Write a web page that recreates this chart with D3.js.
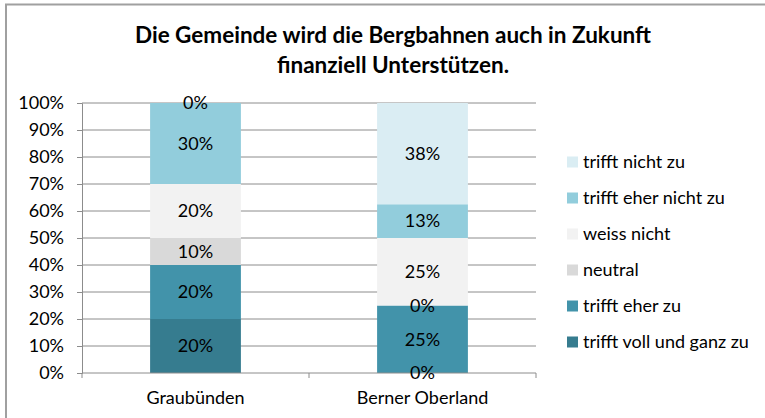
<!DOCTYPE html>
<html>
<head>
<meta charset="utf-8">
<script src="https://cdn.jsdelivr.net/npm/d3@7"></script>
<style>
  body { margin: 0; background: #fff; }
  svg text { font-family: Lato, "Open Sans", sans-serif; fill: #000; }
</style>
</head>
<body>
<svg id="chart" width="765" height="418"></svg>
<script>
// values (shares, 0..1)
var categories = ['Graubünden', 'Berner Oberland'];
var answers = ['trifft voll und ganz zu', 'trifft eher zu', 'neutral', 'weiss nicht', 'trifft eher nicht zu', 'trifft nicht zu'];
var vollUndGanz = [0.20, 0.00];
var eherZu = [0.20, 0.25];
var neutral = [0.10, 0.00];
var weissNicht = [0.20, 0.25];
var eherNicht = [0.30, 0.125];
var nichtZu = [0.00, 0.375];
var yTicks = [0, 0.1, 0.2, 0.3, 0.4, 0.5, 0.6, 0.7, 0.8, 0.9, 1];
var titleLines = ['Die Gemeinde wird die Bergbahnen auch in Zukunft', 'finanziell Unterstützen.'];

var colors = ['#367c8f', '#4293aa', '#d9d9d9', '#f2f2f2', '#92cddc', '#daedf3'];

var rows = categories.map(function (c, i) {
  return {
    cat: c,
    'trifft voll und ganz zu': vollUndGanz[i],
    'trifft eher zu': eherZu[i],
    'neutral': neutral[i],
    'weiss nicht': weissNicht[i],
    'trifft eher nicht zu': eherNicht[i],
    'trifft nicht zu': nichtZu[i]
  };
});

var svg = d3.select('#chart');
// note: "top" is taken by window.top, hence the plot* names
var plotLeft = 82, plotRight = 536, plotTop = 103, plotBottom = 373;
var axisGrey = '#8c8c8c';

// outer frame (only top and left edges visible)
svg.append('path')
  .attr('d', 'M6,430 V4.5 H780')
  .attr('fill', 'none').attr('stroke', '#a0a0a0').attr('stroke-width', 2);

svg.append('text')
  .attr('text-anchor', 'middle')
  .style('font-weight', 'bold').style('font-size', '22.5px')
  .selectAll('tspan').data(titleLines).join('tspan')
  .attr('x', 393).attr('y', function (d, i) { return 43 + i * 30; })
  .text(function (d) { return d; });

var x = d3.scaleBand().domain(categories).range([plotLeft, plotRight]).padding(0);
var y = d3.scaleLinear().domain([0, 1]).range([plotBottom, plotTop]);
var color = d3.scaleOrdinal().domain(answers).range(colors);
var barW = x.bandwidth() * 0.4;
var pct = d3.format('.0%');

// gridlines
svg.append('g').selectAll('line').data(yTicks.slice(1)).join('line')
  .attr('x1', plotLeft).attr('x2', plotRight)
  .attr('y1', function (d) { return y(d); }).attr('y2', function (d) { return y(d); })
  .attr('stroke', axisGrey);

var yAxis = svg.append('g').attr('transform', 'translate(' + plotLeft + ',0)')
  .call(d3.axisLeft(y).tickValues(yTicks).tickFormat(pct).tickSize(5).tickPadding(13));
yAxis.selectAll('text').style('font-size', '18px');
yAxis.select('.domain').attr('stroke', axisGrey);
yAxis.selectAll('.tick line').attr('stroke', axisGrey);

var stack = d3.stack().keys(answers)(rows);

var layers = svg.append('g').selectAll('g').data(stack).join('g')
  .attr('fill', function (d) { return color(d.key); });
layers.selectAll('rect').data(function (d) { return d; }).join('rect')
  .attr('x', function (d) { return x(d.data.cat) + (x.bandwidth() - barW) / 2; })
  .attr('width', barW)
  .attr('y', function (d) { return y(d[1]); })
  .attr('height', function (d) { return y(d[0]) - y(d[1]); });

var xAxis = svg.append('g').attr('transform', 'translate(0,' + plotBottom + ')');
xAxis.append('line').attr('x1', plotLeft).attr('x2', plotRight).attr('stroke', axisGrey);
xAxis.selectAll('line.tick').data([plotLeft, x(categories[1]), plotRight]).join('line')
  .attr('class', 'tick')
  .attr('x1', function (d) { return d; }).attr('x2', function (d) { return d; })
  .attr('y1', 0).attr('y2', 5).attr('stroke', axisGrey);
xAxis.selectAll('text').data(categories).join('text')
  .attr('x', function (d) { return x(d) + x.bandwidth() / 2; })
  .attr('y', 31).attr('text-anchor', 'middle').style('font-size', '18px')
  .text(function (d) { return d; });

// data labels in their own layer so zero-height segments stay visible
var labelData = [];
stack.forEach(function (layer) {
  layer.forEach(function (d) { labelData.push(d); });
});
svg.append('g').selectAll('text').data(labelData).join('text')
  .attr('x', function (d) { return x(d.data.cat) + x.bandwidth() / 2; })
  .attr('y', function (d) { return (y(d[0]) + y(d[1])) / 2; })
  .attr('dy', '0.35em').attr('text-anchor', 'middle').style('font-size', '18px')
  .text(function (d) { return pct(d[1] - d[0]); });

// legend, top entry is the last stack layer
var legend = svg.append('g').selectAll('g').data(answers.slice().reverse()).join('g')
  .attr('transform', function (d, i) { return 'translate(567,' + (162 + i * 36) + ')'; });
legend.append('rect').attr('y', -5.5).attr('width', 11).attr('height', 11)
  .attr('fill', function (d) { return color(d); });
legend.append('text').attr('x', 16).attr('dy', '0.35em').style('font-size', '18px')
  .text(function (d) { return d; });
</script>
</body>
</html>
